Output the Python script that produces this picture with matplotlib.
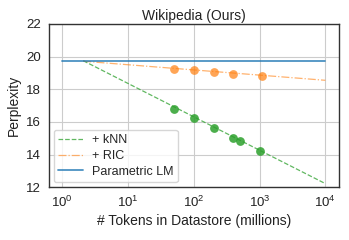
import numpy as np
import matplotlib
matplotlib.use("Agg")
import matplotlib.pyplot as plt
import seaborn as sns

# datastore sizes (millions of tokens) and perplexities
knn_tokens = [50, 100, 200, 400, 500, 1000]
knn_ppl = [16.80, 16.25, 15.64, 15.00, 14.86, 14.19]
ric_tokens = [50, 100, 200, 400, 1100]
ric_ppl = [19.26, 19.16, 19.06, 18.93, 18.83]

# trend lines
trend_tokens = [2.1, 10000]
knn_trend = [19.75, 12.22]
ric_trend = [19.72, 18.55]

param_tokens = [1, 10000]
param_ppl = [19.76, 19.76]

sns.set_style("whitegrid")
plt.rcParams['font.family'] = ['Liberation Sans', 'DejaVu Sans']

green = '#2ca02c'
orange = '#ff7f0e'
blue = '#1f77b4'

fig, ax = plt.subplots(figsize=(3.49, 2.40), dpi=100)

ax.plot(trend_tokens, knn_trend, '--', color=green, lw=0.9, alpha=0.75, label='+ kNN')
ax.plot(trend_tokens, ric_trend, '-.', color=orange, lw=0.9, alpha=0.6, label='+ RIC')
ax.plot(param_tokens, param_ppl, '-', color=blue, lw=1.3, alpha=0.8, label='Parametric LM')
ax.scatter(knn_tokens, knn_ppl, s=40, color=green, alpha=0.85, zorder=3, linewidths=0)
ax.scatter(ric_tokens, ric_ppl, s=40, color=orange, alpha=0.7, zorder=3, linewidths=0)

ax.set_xscale('log')
ax.set_xlim(10 ** -0.2, 10 ** 4.2)
ax.set_ylim(12, 22)
ax.set_yticks([12, 14, 16, 18, 20, 22])
ax.set_xticks([1, 10, 100, 1000, 10000])
ax.minorticks_off()
ax.tick_params(labelsize=9.5, pad=2, colors='#222222')

for s in ax.spines.values():
    s.set_color('#333333')
    s.set_linewidth(1.0)

ax.set_title('Wikipedia (Ours)', fontsize=10, pad=3, color='#222222')
ax.set_xlabel('# Tokens in Datastore (millions)', fontsize=10, labelpad=3, color='#222222')
ax.set_ylabel('Perplexity', fontsize=10, labelpad=4, color='#222222')

leg = ax.legend(loc='lower left', fontsize=9, frameon=True, handlelength=2.0,
                borderpad=0.35, labelspacing=0.3, handletextpad=0.7, borderaxespad=0.4)

fig.subplots_adjust(left=0.14, right=0.97, bottom=0.22, top=0.9)
fig.savefig('out.png', dpi=100)
